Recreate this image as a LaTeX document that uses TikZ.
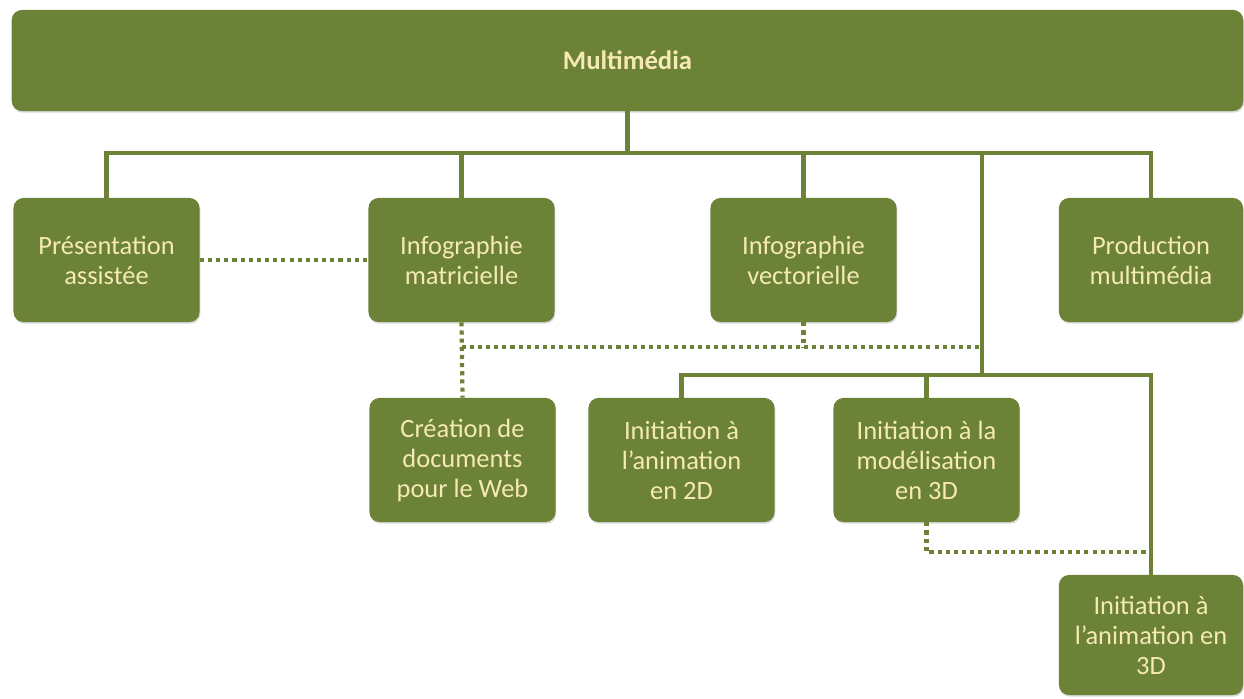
\documentclass[tikz,border=0pt]{standalone}
\usepackage{fontspec}
\setmainfont{Carlito}
\usepackage{tikz}
\usetikzlibrary{shadows}
\definecolor{leaf}{RGB}{107,130,55}
\definecolor{cream}{RGB}{246,233,180}

\begin{document}
\begin{tikzpicture}[x=0.025cm,y=-0.025cm,
  box node/.style={rectangle,rounded corners=0.25cm,fill=leaf,text=cream,align=center,
    minimum width=4.65cm,minimum height=3.1cm,inner sep=0pt,
    drop shadow={opacity=0.3,shadow xshift=0.6pt,shadow yshift=-1.2pt},
    font=\fontsize{18.8}{21.3}\selectfont},
  link/.style={draw=leaf,line width=2.9pt},
  dots/.style={draw=leaf,line width=3pt,dash pattern=on 2.9pt off 2.9pt}]

  \useasboundingbox (0,0) rectangle (1244,698);

  \node[box node,minimum width=30.78cm,minimum height=2.525cm,font=\fontsize{19}{21.3}\selectfont\bfseries] (multi) at (627.5,60.5) {Multimédia};

  \node[box node] (pres) at (106.5,260) {Présentation\\assistée};
  \node[box node] (mat) at (461.5,260) {Infographie\\matricielle};
  \node[box node] (vec) at (803.5,260) {Infographie\\vectorielle};
  \node[box node,minimum width=4.6cm] (prod) at (1151,260) {Production\\multimédia};

  \node[box node] (crea) at (462.5,460) {Création de\\documents\\pour le Web};
  \node[box node] (ani2) at (681.5,460) {Initiation à\\l’animation\\en 2D};
  \node[box node] (mod) at (926.5,460) {Initiation à la\\modélisation\\en 3D};
  \node[box node,minimum width=4.6cm,minimum height=3cm] (ani3) at (1151,635) {Initiation à\\l’animation en\\3D};

  \coordinate (bus1) at (0,153);
  \coordinate (bus2) at (0,375);
  \coordinate (dot1) at (0,347);
  \coordinate (dot2) at (0,552);
  \coordinate (br) at (982,153);

  % solid links
  \path[link] (multi.south) -- (multi.south |- bus1);
  \path[link] (pres.north) |- (prod.north |- bus1) -- (prod.north);
  \path[link] (mat.north) -- (mat.north |- bus1);
  \path[link] (vec.north) -- (vec.north |- bus1);
  \path[link] (br) -- (br |- bus2);
  \path[link] (ani2.north) |- (ani3.north |- bus2) -- (ani3.north);
  \path[link] (mod.north) -- (mod.north |- bus2);

  % dotted links
  \path[dots] (pres.east) -- (mat.west);
  \path[dots] (mat.south) -- (crea.north);
  \path[dots] (mat.south |- dot1) -- (br |- dot1);
  \path[dots] (vec.south) -- (vec.south |- dot1);
  \path[dots] (mod.south) |- (ani3.north |- dot2);
\end{tikzpicture}
\end{document}
